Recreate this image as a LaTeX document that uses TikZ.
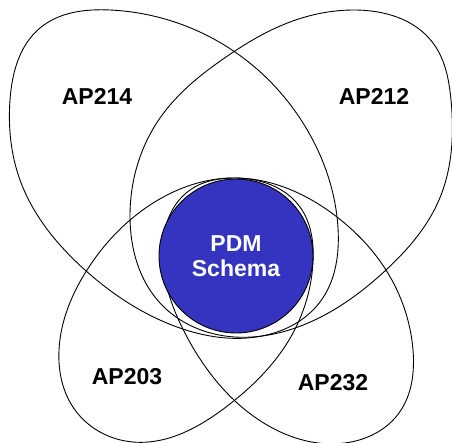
\documentclass[tikz,border=0pt]{standalone}
\usepackage{fontspec}
\setmainfont{Liberation Sans}
\usetikzlibrary{hobby}
\definecolor{pdmblue}{RGB}{52,52,192}
\begin{document}
\begin{tikzpicture}[x=1pt,y=-1pt,
  petal/.style={draw=black,line width=0.9pt},
  lab/.style={font=\fontsize{23}{24.5}\selectfont\bfseries,inner sep=0pt},
  core/.style={circle,fill=pdmblue,draw=black,line width=0.9pt,minimum size=154pt,inner sep=0pt,
    font=\fontsize{23}{24.5}\selectfont\bfseries,text=white,align=center}]
\useasboundingbox (0,0) rectangle (452,443);
% AP214
\draw[petal] plot[closed hobby] coordinates {
  (110,10) (235,52) (309,133) (338,228) (320,302) (262,336) (177,327) (85,270) (20,180) (10,100) (40,28)};
% AP212
\draw[petal] plot[closed hobby] coordinates {
  (353,10) (433,43) (451,100) (439,200) (386,270) (298,327) (225,336) (160,303) (130,217) (160,118) (226,57) (290,22)};
% AP203
\draw[petal] plot[closed hobby] coordinates {
  (233,178) (300,207) (313,262) (293,333) (226,407) (133,442) (75,410) (59,350) (87,270) (150,205)};
% AP232
\draw[petal] plot[closed hobby] coordinates {
  (233,178) (337,217) (386,270) (413,350) (399,413) (345,443) (259,420) (187,337) (163,265) (190,190)};
\node[core] (pdm) at (236,256) {PDM\\Schema};
\node[lab] (a214) at (97,96) {AP214};
\node[lab] (a212) at (374,96) {AP212};
\node[lab] (a203) at (127,377) {AP203};
\node[lab] (a232) at (333,383) {AP232};
\end{tikzpicture}
\end{document}
